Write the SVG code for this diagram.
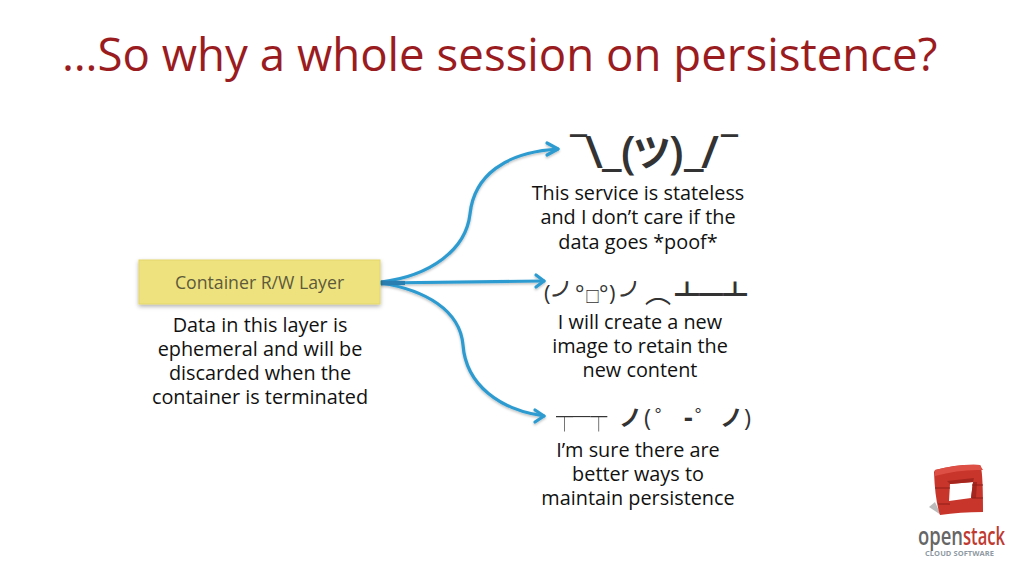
<svg xmlns="http://www.w3.org/2000/svg" width="1024" height="576" viewBox="0 0 1024 576">
<style>
text{font-family:"Open Sans","Noto Sans",sans-serif}
.t{font-size:19.85px;fill:#111;text-anchor:middle}
.e{fill:#333}
.b{font-weight:700}
.j{font-family:"Noto Sans CJK JP","DejaVu Sans",sans-serif}
.c{fill:none;stroke:#2e9bd0;stroke-width:3.2;stroke-linecap:round;stroke-linejoin:round}
</style>
<defs>
<filter id="s" x="-10%" y="-20%" width="120%" height="150%"><feDropShadow dx="0" dy="2" stdDeviation="2" flood-color="#000" flood-opacity=".3"/></filter>
<filter id="l" x="-10%" y="-20%" width="120%" height="140%"><feDropShadow dx="0" dy="1.5" stdDeviation="1.2" flood-color="#000" flood-opacity=".25"/></filter>
</defs>
<rect width="1024" height="576" fill="#fff"/>
<text id="title" x="62" y="71" font-size="45.6" fill="#9a1c1f">…So why a whole session on persistence?</text>
<g id="connectors" filter="url(#l)">
<path class="c" d="M381 282C430 276 466 250 470 214C474 176 505 152 558 149"/>
<path class="c" d="M381 283L544 281"/>
<path class="c" d="M381 283C425 290 460 310 463 345C466 385 500 410 544 416"/>
<path class="c" d="M547 143L558 149L547 155"/>
<path class="c" d="M536 275L544 281L536 287"/>
<path class="c" d="M535 410L544 416L535 422"/>
<path d="M381 280.500L405 281V285L381 285.500Z" fill="#2b7fb0"/>
</g>
<g id="container-layer">
<rect x="139" y="260" width="241" height="44" fill="#eee27f" stroke="#e3d66a" filter="url(#s)"/>
<text x="259.500" y="288.500" font-size="17.700" fill="#5d5a3a" text-anchor="middle">Container R/W Layer</text>
</g>
<g id="layer-note">
<text class="t" x="260" y="332">Data in this layer is</text>
<text class="t" x="260" y="356">ephemeral and will be</text>
<text class="t" x="260" y="380">discarded when the</text>
<text class="t" x="260" y="404">container is terminated</text>
</g>
<g id="stateless">
<text class="e" y="168" font-size="46" font-weight="600"><tspan x="585">\</tspan><tspan x="602" dy="-3">_</tspan><tspan x="621" dy="3">(</tspan><tspan class="j" x="633" font-size="38" dy="-2">ツ</tspan><tspan x="669" dy="2">)</tspan><tspan x="684" dy="-3">_</tspan><tspan x="701" dy="3">/</tspan></text>
<text class="e" y="163" font-size="34" font-weight="600"><tspan x="570">¯</tspan><tspan x="721">¯</tspan></text>
<text class="t" x="638" y="200">This service is stateless</text>
<text class="t" x="638" y="224">and I don’t care if the</text>
<text class="t" x="638" y="249">data goes *poof*</text>
</g>
<g id="new-image">
<text class="e" y="301" font-size="22"><tspan x="544">(</tspan><tspan x="575">°</tspan><tspan class="j b" x="585" font-size="15" dy="1">□</tspan><tspan x="599" dy="-1">°</tspan><tspan x="609">)</tspan></text>
<text class="e j b" y="307" font-size="28" stroke="#333" stroke-width=".9"><tspan x="553">╯</tspan><tspan x="621">╯</tspan></text>
<text class="e j" x="645" y="303" font-size="26">︵</text>
<text class="e j" x="675" y="303" font-size="24" textLength="72" lengthAdjust="spacingAndGlyphs">┻━┻</text>
<text class="t" x="640" y="329">I will create a new</text>
<text class="t" x="640" y="353">image to retain the</text>
<text class="t" x="640" y="377">new content</text>
</g>
<g id="persistence">
<text class="e j" transform="translate(556 428) scale(.61 1)" opacity=".99" font-size="28">┬─┬</text>
<text class="e" y="426" font-size="24"><tspan class="j b" x="619" font-size="23">ノ</tspan><tspan x="644">(</tspan><tspan class="j" x="655" font-size="22">゜</tspan><tspan class="b" x="684" font-size="27" dy="1">-</tspan><tspan class="j" x="695" font-size="22" dy="-1">゜</tspan><tspan class="j b" x="720" font-size="23">ノ</tspan><tspan x="744">)</tspan></text>
<text class="t" x="638" y="457">I’m sure there are</text>
<text class="t" x="638" y="481">better ways to</text>
<text class="t" x="638" y="505">maintain persistence</text>
</g>
<g id="openstack-logo">
<path d="M935 502L929 507L941 515Z" fill="#bbb"/>
<path fill-rule="evenodd" d="M935 470Q958 464 980 465Q983 468 983 512Q960 512 940 515Q935 500 934 472ZM950 484L973 482L971 498L949 501Z" fill="#c8352b"/>
<path d="M935 470Q958 464 980 465L983 470Q960 469 935 476Z" fill="#dd4f44"/>
<path d="M950 484L973 482L974 478L947 481ZM973 482L971 498L976 498L977 482Z" fill="#a5261e"/>
<path d="M935 488H950M938 504H950M972 485H983M972 498H983" stroke="#8f1f18" stroke-width="1"/>
<text x="918" y="545" font-size="26" font-weight="600" textLength="45" lengthAdjust="spacingAndGlyphs" fill="#666">open</text>
<text x="963" y="545" font-size="26" font-weight="600" textLength="42" lengthAdjust="spacingAndGlyphs" fill="#bf3a30">stack</text>
<text x="925" y="556" font-size="7.500" font-weight="700" textLength="69" fill="#8f9aa3">CLOUD SOFTWARE</text>
</g>
</svg>
